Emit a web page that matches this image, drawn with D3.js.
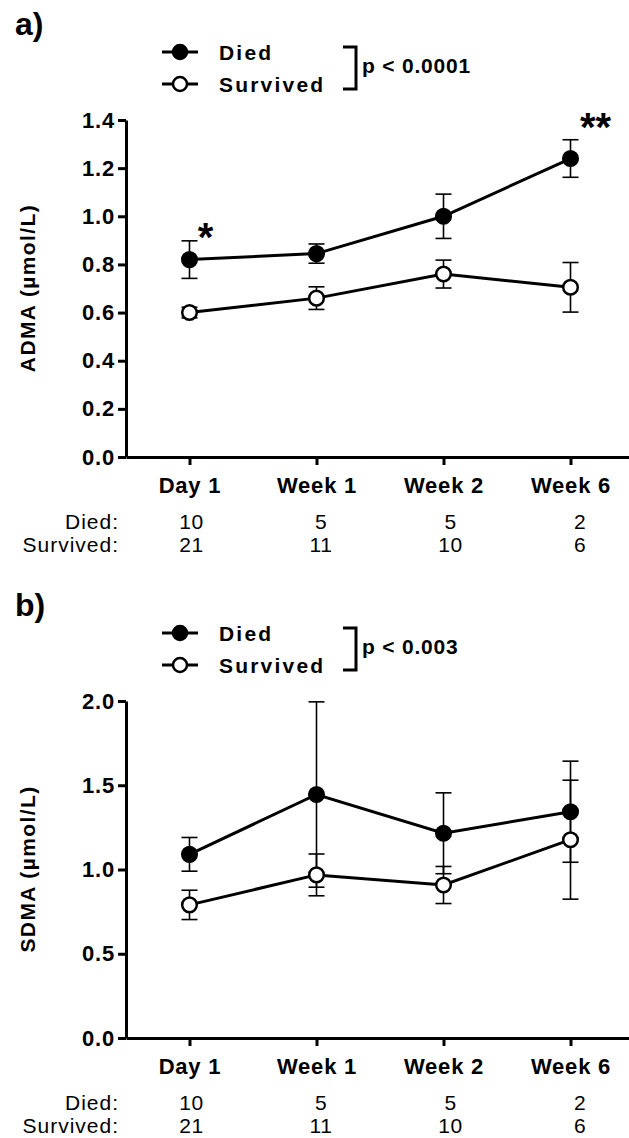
<!DOCTYPE html>
<html>
<head>
<meta charset="utf-8">
<script src="https://cdn.jsdelivr.net/npm/d3@7"></script>
<style>
  body { margin: 0; background: #fff; }
  text { font-family: "Liberation Sans", Arial, sans-serif; fill: #000; }
</style>
</head>
<body>
<div id="chart"></div>
<script>
const categories = ["Day 1", "Week 1", "Week 2", "Week 6"];

// ADMA (panel a)
const admaDied = [0.82, 0.845, 1.0, 1.24];
const admaDiedErr = [0.078, 0.04, 0.092, 0.078];
const admaSurv = [0.60, 0.66, 0.76, 0.705];
const admaSurvErr = [0.022, 0.047, 0.058, 0.103];
const admaTicks = [0, 0.2, 0.4, 0.6, 0.8, 1.0, 1.2, 1.4];

// SDMA (panel b)
const sdmaDied = [1.09, 1.445, 1.215, 1.343];
const sdmaDiedErr = [0.10, 0.55, 0.24, 0.30];
const sdmaSurv = [0.79, 0.968, 0.908, 1.177];
const sdmaSurvErr = [0.087, 0.124, 0.11, 0.353];
const sdmaTicks = [0, 0.5, 1.0, 1.5, 2.0];

// patients per time point
const nDied = [10, 5, 5, 2];
const nSurv = [21, 11, 10, 6];

const svg = d3.select("#chart").append("svg")
    .attr("width", 629).attr("height", 1138);

const x = d3.scalePoint().domain(categories).range([126, 634]).padding(0.5);

function drawPanel(top, letter, yMax, ticks, title, died, diedErr, surv, survErr, pText, stars) {
    const g = svg.append("g").attr("transform", `translate(0,${top})`);
    const y = d3.scaleLinear().domain([0, yMax]).range([457, 120]);

    // panel letter
    g.append("text").attr("x", 15).attr("y", 35)
        .style("font-size", "32px").style("font-weight", "bold").text(letter);

    // legend
    const leg = [{ name: "Died", fill: "#000", cy: 52 }, { name: "Survived", fill: "#fff", cy: 84 }];
    leg.forEach(d => {
        g.append("line").attr("x1", 162).attr("x2", 198).attr("y1", d.cy).attr("y2", d.cy)
            .attr("stroke", "#000").attr("stroke-width", 3);
        g.append("circle").attr("cx", 180).attr("cy", d.cy).attr("r", 7)
            .attr("fill", d.fill).attr("stroke", "#000").attr("stroke-width", 2.5);
        g.append("text").attr("x", 219).attr("y", d.cy + 7.5)
            .style("font-size", "21px").style("font-weight", "bold")
            .style("letter-spacing", "2.2px").text(d.name);
    });
    g.append("path").attr("d", "M343,47H356V89H343")
        .attr("fill", "none").attr("stroke", "#000").attr("stroke-width", 3);
    g.append("text").attr("x", 362).attr("y", 73)
        .style("font-size", "21px").style("font-weight", "bold")
        .style("letter-spacing", "0.8px").text(pText);

    // axes
    const yAxis = g.append("g").attr("transform", "translate(126,0)")
        .call(d3.axisLeft(y).tickValues(ticks).tickSize(8).tickSizeOuter(0).tickPadding(3)
            .tickFormat(d3.format(".1f")));
    const xAxis = g.append("g").attr("transform", "translate(0,457)")
        .call(d3.axisBottom(x).tickSize(8).tickSizeOuter(0).tickPadding(12));
    [yAxis, xAxis].forEach(a => {
        a.select(".domain").attr("stroke-width", 3);
        a.selectAll(".tick line").attr("stroke-width", 3);
        a.selectAll("text").style("font-family", "'Liberation Sans', Arial, sans-serif")
            .style("font-weight", "bold").style("font-size", "22px").style("letter-spacing", "0.8px");
    });

    g.append("text")
        .attr("transform", "translate(35,288) rotate(-90)")
        .attr("text-anchor", "middle")
        .style("font-size", "21px").style("font-weight", "bold").style("letter-spacing", "1.4px")
        .text(title);

    // series
    const series = [
        { vals: died, err: diedErr, fill: "#000" },
        { vals: surv, err: survErr, fill: "#fff" }
    ];
    series.forEach(s => {
        const pts = categories.map((c, i) => ({ c: c, v: s.vals[i], e: s.err[i] }));
        const eb = g.append("g");
        pts.forEach(p => {
            const cx = x(p.c);
            eb.append("line").attr("x1", cx).attr("x2", cx)
                .attr("y1", y(p.v + p.e)).attr("y2", y(p.v - p.e))
                .attr("stroke", "#000").attr("stroke-width", 1.6);
            [p.v + p.e, p.v - p.e].forEach(v => {
                eb.append("line").attr("x1", cx - 8).attr("x2", cx + 8)
                    .attr("y1", y(v)).attr("y2", y(v))
                    .attr("stroke", "#000").attr("stroke-width", 1.6);
            });
        });
        g.append("path").datum(pts)
            .attr("d", d3.line().x(p => x(p.c)).y(p => y(p.v)))
            .attr("fill", "none").attr("stroke", "#000").attr("stroke-width", 3);
        g.selectAll(null).data(pts).enter().append("circle")
            .attr("cx", p => x(p.c)).attr("cy", p => y(p.v)).attr("r", 7.3)
            .attr("fill", s.fill).attr("stroke", "#000").attr("stroke-width", 2.5);
    });

    // significance stars
    stars.forEach(s => {
        g.append("text").attr("x", x(s.c) + s.dx).attr("y", y(s.v))
            .attr("text-anchor", "middle")
            .style("font-size", "40px").style("font-weight", "bold").text(s.t);
    });

    // n per group
    const rows = [{ label: "Died:", n: nDied, yy: 529 }, { label: "Survived:", n: nSurv, yy: 552 }];
    rows.forEach(r => {
        g.append("text").attr("x", 119).attr("y", r.yy).attr("text-anchor", "end")
            .style("font-size", "21px").style("letter-spacing", "1px").text(r.label);
        categories.forEach((c, i) => {
            g.append("text").attr("x", x(c) + 2 + i * 2.5).attr("y", r.yy).attr("text-anchor", "middle")
                .style("font-size", "21px").style("letter-spacing", "0.5px").text(r.n[i]);
        });
    });
}

drawPanel(0, "a)", 1.4, admaTicks, "ADMA (µmol/L)", admaDied, admaDiedErr, admaSurv, admaSurvErr,
    "p < 0.0001", [{ c: "Day 1", v: 0.856, t: "*", dx: 16 }, { c: "Week 6", v: 1.314, t: "**", dx: 25 }]);
drawPanel(581, "b)", 2.0, sdmaTicks, "SDMA (µmol/L)", sdmaDied, sdmaDiedErr, sdmaSurv, sdmaSurvErr,
    "p < 0.003", []);
</script>
</body>
</html>
